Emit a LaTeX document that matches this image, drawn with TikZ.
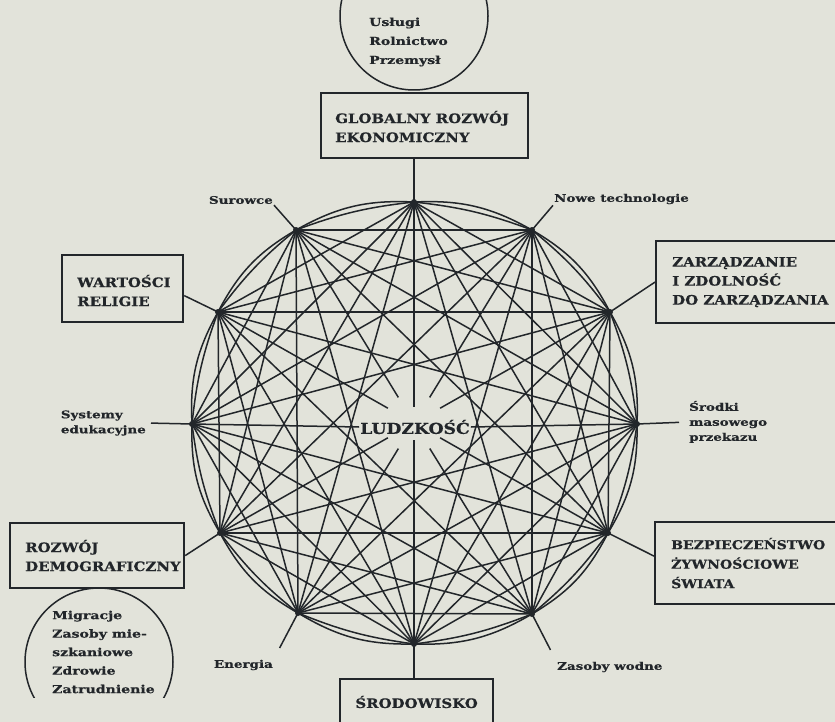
\documentclass[tikz,border=0pt]{standalone}
\usepackage{fontspec}
\usetikzlibrary{calc}
\newfontfamily\lblfont{DejaVu Serif}[FakeStretch=1.28,FakeBold=0.6]
\newfontfamily\boxfont{DejaVu Serif}[FakeStretch=1.15,FakeBold=0.6]
\definecolor{paper}{RGB}{226,227,218}
\definecolor{ink}{RGB}{34,38,42}

\begin{document}
\begin{tikzpicture}[x=1pt,y=-1pt,
  chord/.style={draw=ink, line width=1.5pt},
  spoke/.style={draw=ink, line width=1.5pt},
  frame/.style={draw=ink, line width=2.2pt, inner sep=0pt, anchor=north west},
  boxtxt/.style={text=ink, font=\boxfont\bfseries\fontsize{13}{19}\selectfont, align=left, inner sep=0pt, anchor=west},
  lbl/.style={text=ink, font=\lblfont\bfseries\fontsize{10.5}{15}\selectfont, align=left, inner sep=1pt},
  bowltxt/.style={text=ink, font=\lblfont\bfseries\fontsize{11}{19}\selectfont, align=left, inner sep=0pt, anchor=west},
  bowlring/.style={draw=ink, line width=1.5pt},
  hub/.style={fill=ink},
]
\useasboundingbox (0,0) rectangle (835,722);
\clip (0,0) rectangle (835,722);
\fill[paper] (0,0) rectangle (835,722);

% --- twelve factors on the ring, clockwise from the top ---
\coordinate (ctr) at (414,423);
\coordinate (v0) at (414,202);
\coordinate (v1) at (532,230);
\coordinate (v2) at (610,312);
\coordinate (v3) at (637,424);
\coordinate (v4) at (608,533);
\coordinate (v5) at (532,614);
\coordinate (v6) at (414,644);
\coordinate (v7) at (298,613);
\coordinate (v8) at (220,533);
\coordinate (v9) at (192,424);
\coordinate (v10) at (218,312);
\coordinate (v11) at (296,230);

% centre label
\node[text=ink, font=\boxfont\bfseries\fontsize{15}{18}\selectfont, inner sep=1pt] (lud) at (415,427) {LUDZKOŚĆ};

% --- every pair of factors joined (diameters handled apart) ---
\foreach \i in {0,...,10}{
  \pgfmathtruncatemacro\s{\i+1}
  \foreach \j in {\s,...,11}{
    \pgfmathtruncatemacro\d{\j-\i}
    \ifnum\d=6\relax\else
      \ifnum\d=1\relax \draw[chord] (v\i) to[bend left=7] (v\j);
      \else\ifnum\d=11\relax \draw[chord] (v\j) to[bend left=7] (v\i);
      \else \draw[chord] (v\i) -- (v\j);
      \fi\fi
    \fi
  }
}
% outer ring
\foreach \i in {0,...,11}{
  \pgfmathtruncatemacro\n{mod(\i+1,12)}
  \draw[chord] (v\i) to[bend left=16] (v\n);
}
% diameters, broken around the centre
\foreach \a in {1,2,4,5,7,8,10,11}{
  \draw[chord] (v\a) -- ($(ctr)!30pt!(v\a)$);
}
\draw[chord] (v0) -- ($(ctr)!16pt!(v0)$);
\draw[chord] (v6) -- ($(ctr)!17pt!(v6)$);
\draw[chord] (v9) -- (lud.west);
\draw[chord] (v3) -- (lud.east);

\foreach \i in {0,...,11}{ \fill[hub] (v\i) circle[radius=3pt]; }

% --- boxed domains ---
\node[frame, minimum width=207pt, minimum height=65pt] (glob) at (320,92) {};
\node[boxtxt] (globt) at ([xshift=15pt,yshift=-1pt]glob.west) {GLOBALNY ROZWÓJ\\EKONOMICZNY};

\node[frame, minimum width=121pt, minimum height=67pt] (wart) at (61,254) {};
\node[boxtxt] (wartt) at ([xshift=16pt,yshift=-2pt]wart.west) {WARTOŚCI\\RELIGIE};

\node[frame, minimum width=200pt, minimum height=82pt] (zarz) at (655,240) {};
\node[boxtxt] (zarzt) at ([xshift=17pt]zarz.west) {ZARZĄDZANIE\\I ZDOLNOŚĆ\\DO ZARZĄDZANIA};

\node[frame, minimum width=174pt, minimum height=65pt] (rozw) at (9,522) {};
\node[boxtxt] (rozwt) at ([xshift=16pt]rozw.west) {ROZWÓJ\\DEMOGRAFICZNY};

\node[frame, minimum width=200pt, minimum height=82pt] (bezp) at (654,521) {};
\node[boxtxt, font=\boxfont\bfseries\fontsize{12.2}{19.5}\selectfont] (bezpt) at ([xshift=17pt]bezp.west) {BEZPIECZEŃSTWO\\ŻYWNOŚCIOWE\\ŚWIATA};

\node[frame, minimum width=153pt, minimum height=70pt] (srod) at (339,678) {};
\node[boxtxt, anchor=center] (srodt) at ([yshift=-24pt]srod.north) {ŚRODOWISKO};

% --- small labels ---
\node[lbl, anchor=east] (sur) at (274,200) {Surowce};
\node[lbl, anchor=west] (now) at (553,199) {Nowe technologie};
\node[lbl, anchor=east] (sys) at (147,423) {Systemy\\edukacyjne};
\node[lbl, anchor=west] (sro) at (688,422) {Środki\\masowego\\przekazu};
\node[lbl, anchor=east] (ene) at (274,665) {Energia};
\node[lbl, anchor=west] (zas) at (556,667) {Zasoby wodne};

% --- spokes from the ring outward ---
\draw[spoke] (v0) -- (v0 |- glob.south);
\draw[spoke] (v6) -- (v6 |- srod.north);
\draw[spoke] (v11) -- (sur.south east);
\draw[spoke] (v1) -- (now.south west);
\draw[spoke] (v10) -- ([yshift=-7pt]wart.east);
\draw[spoke] (v2) -- (zarz.west);
\draw[spoke, shorten >=4pt] (v9) -- (sys.east);
\draw[spoke, shorten >=9pt] (v3) -- (sro.west);
\draw[spoke] (v8) -- (rozw.east);
\draw[spoke] (v4) -- ([yshift=7pt]bezp.west);
\draw[spoke, shorten >=12pt] (v7) -- (ene.north east);
\draw[spoke, shorten >=12pt] (v5) -- (zas.north west);

% --- sub-lists in round bowls ---
\coordinate (bowlA) at (414,16);
\draw[bowlring] (bowlA) circle[radius=74pt];
\node[bowltxt] (uslt) at (369,42) {Usługi\\Rolnictwo\\Przemysł};

\coordinate (bowlB) at (99,662);
\begin{scope}
  \clip (0,0) rectangle (835,697);
  \draw[bowlring] (bowlB) circle[radius=74pt];
\end{scope}
\node[bowltxt, font=\lblfont\bfseries\fontsize{11}{18.5}\selectfont] (migt) at (52,652) {Migracje\\Zasoby mie-\\szkaniowe\\Zdrowie\\Zatrudnienie};

\end{tikzpicture}
\end{document}
